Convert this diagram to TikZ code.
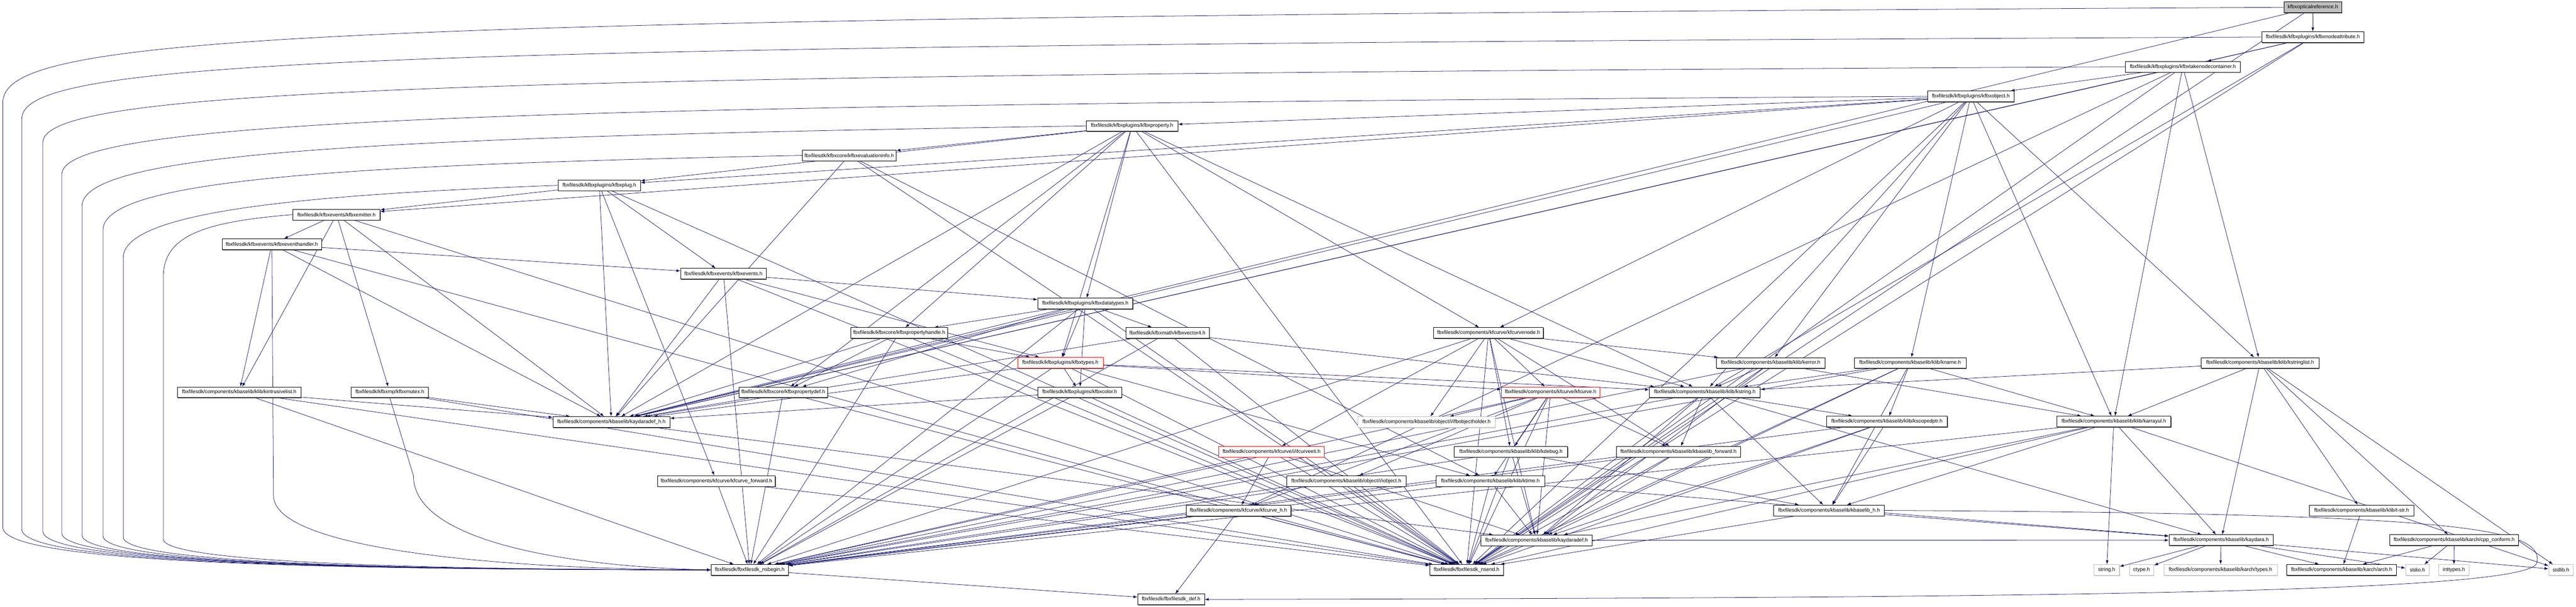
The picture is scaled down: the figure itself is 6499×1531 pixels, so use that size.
\documentclass[tikz,border=0pt]{standalone}
\usepackage{fontspec}
\newfontfamily\hdrfont{Liberation Sans}
\usetikzlibrary{arrows.meta,shadows,backgrounds}
\definecolor{edgeblue}{HTML}{191970}
\definecolor{nodocgray}{HTML}{BFBFBF}
\tikzset{
  basebox/.style={draw=black, fill=white, line width=0.5pt, inner sep=0pt,
    minimum height=13.5pt, font=\hdrfont\fontsize{6.5}{7}\selectfont},
  hdr/.style={basebox, drop shadow={shadow xshift=0.5pt, shadow yshift=-0.9pt, fill=black!65, opacity=1}},
  leaf/.style={basebox, draw=nodocgray, drop shadow={shadow xshift=0.5pt, shadow yshift=-0.9pt, fill=black!20, opacity=1}},
  trunc/.style={draw=red},
  rootnode/.style={fill=nodocgray},
  wd/.style={minimum width=#1*0.5pt},
  dep/.style={draw=edgeblue, line width=0.5pt, -{Latex[length=5pt,width=3.6pt]}}
}
\begin{document}
\begin{tikzpicture}[x=0.5pt,y=-0.5pt]
\useasboundingbox (0,0) rectangle (6499,1531);
% headers, top to bottom
\node[hdr,rootnode,wd=146] (root) at (5835,18.5) {kfbxopticalreference.h};
\node[hdr,wd=258] (nattr) at (5835,93.5) {fbxfilesdk/kfbxplugins/kfbxnodeattribute.h};
\node[hdr,wd=290] (tnc) at (5507,168.5) {fbxfilesdk/kfbxplugins/kfbxtakenodecontainer.h};
\node[hdr,wd=218] (obj) at (4972,243) {fbxfilesdk/kfbxplugins/kfbxobject.h};
\node[hdr,wd=232] (prop) at (2856,317.5) {fbxfilesdk/kfbxplugins/kfbxproperty.h};
\node[hdr,wd=237] (evinfo) at (2142.5,392) {fbxfilesdk/kfbxcore/kfbxevaluationinfo.h};
\node[hdr,wd=208] (plug) at (1512,467.5) {fbxfilesdk/kfbxplugins/kfbxplug.h};
\node[hdr,wd=220] (emit) at (849,541.5) {fbxfilesdk/kfbxevents/kfbxemitter.h};
\node[hdr,wd=250] (evhdl) at (686,616) {fbxfilesdk/kfbxevents/kfbxeventhandler.h};
\node[hdr,wd=216] (events) at (1825,690.5) {fbxfilesdk/kfbxevents/kfbxevents.h};
\node[hdr,wd=240] (dtypes) at (2738,765.5) {fbxfilesdk/kfbxplugins/kfbxdatatypes.h};
\node[hdr,wd=245] (phandle) at (2268.5,840) {fbxfilesdk/kfbxcore/kfbxpropertyhandle.h};
\node[hdr,wd=211] (vec4) at (2945.5,840) {fbxfilesdk/kfbxmath/kfbxvector4.h};
\node[hdr,wd=277] (fcnode) at (3755.5,840) {fbxfilesdk/components/kfcurve/kfcurvenode.h};
\node[hdr,trunc,wd=216] (ftypes) at (2675,915) {fbxfilesdk/kfbxplugins/kfbxtypes.h};
\node[hdr,wd=274] (kerror) at (4467,915.5) {fbxfilesdk/components/kbaselib/klib/kerror.h};
\node[hdr,wd=282] (kname) at (4819,915.5) {fbxfilesdk/components/kbaselib/klib/kname.h};
\node[hdr,wd=298] (kslist) at (5702,915.5) {fbxfilesdk/components/kbaselib/klib/kstringlist.h};
\node[hdr,wd=311] (ilist) at (603.5,989.5) {fbxfilesdk/components/kbaselib/klib/kintrusivelist.h};
\node[hdr,wd=195] (mutex) at (983.5,989.5) {fbxfilesdk/kfbxmp/kfbxmutex.h};
\node[hdr,wd=224] (pdef) at (1976,989.5) {fbxfilesdk/kfbxcore/kfbxpropertydef.h};
\node[hdr,wd=212] (color) at (2724,989.5) {fbxfilesdk/kfbxplugins/kfbxcolor.h};
\node[hdr,trunc,wd=248] (fcurve) at (3912,989.5) {fbxfilesdk/components/kfcurve/kfcurve.h};
\node[hdr,wd=280] (kstr) at (4301,989.5) {fbxfilesdk/components/kbaselib/klib/kstring.h};
\node[hdr,wd=295] (kadefh) at (1542.5,1064.5) {fbxfilesdk/components/kbaselib/kaydaradef\_h.h};
\node[leaf,wd=346] (objholder) at (3599,1064.5) {fbxfilesdk/components/kbaselib/object/i/ifbobjectholder.h};
\node[hdr,wd=305] (scoped) at (4760.5,1063.5) {fbxfilesdk/components/kbaselib/klib/kscopedptr.h};
\node[hdr,wd=288] (karray) at (5333,1063.5) {fbxfilesdk/components/kbaselib/klib/karrayul.h};
\node[hdr,trunc,wd=266] (eti) at (3208,1139.5) {fbxfilesdk/components/kfcurve/i/ifcurveeti.h};
\node[hdr,wd=286] (kdebug) at (3812,1139.5) {fbxfilesdk/components/kbaselib/klib/kdebug.h};
\node[hdr,wd=313] (kbfwd) at (4234.5,1139.5) {fbxfilesdk/components/kbaselib/kbaselib\_forward.h};
\node[hdr,wd=297] (fcfwd) at (1807.5,1213.5) {fbxfilesdk/components/kfcurve/kfcurve\_forward.h};
\node[hdr,wd=301] (iobj) at (3396.5,1213.5) {fbxfilesdk/components/kbaselib/object/i/iobject.h};
\node[hdr,wd=274] (ktime) at (3760,1213.5) {fbxfilesdk/components/kbaselib/klib/ktime.h};
\node[hdr,wd=265] (fch) at (3124.5,1288) {fbxfilesdk/components/kfcurve/kfcurve\_h.h};
\node[hdr,wd=279] (kbh) at (4614.5,1287.5) {fbxfilesdk/components/kbaselib/kbaselib\_h.h};
\node[hdr,wd=264] (tstr) at (5958,1287.5) {fbxfilesdk/components/kbaselib/klib/t-str.h};
\node[hdr,wd=281] (kadef) at (3876.5,1363) {fbxfilesdk/components/kbaselib/kaydaradef.h};
\node[hdr,wd=263] (kay) at (5603.5,1362.5) {fbxfilesdk/components/kbaselib/kaydara.h};
\node[hdr,wd=325] (cppc) at (6191.5,1362.5) {fbxfilesdk/components/kbaselib/karch/cpp\_conform.h};
\node[hdr,wd=195] (nsbeg) at (1891.5,1437.5) {fbxfilesdk/fbxfilesdk\_nsbegin.h};
\node[hdr,wd=186] (nsend) at (3700,1437.5) {fbxfilesdk/fbxfilesdk\_nsend.h};
\node[leaf,wd=64] (strh) at (5315,1437.5) {string.h};
\node[leaf,wd=62] (ctype) at (5403,1437.5) {ctype.h};
\node[leaf,wd=286] (atypes) at (5602,1437.5) {fbxfilesdk/components/kbaselib/karch/types.h};
\node[hdr,wd=277] (arch) at (5907.5,1437.5) {fbxfilesdk/components/kbaselib/karch/arch.h};
\node[leaf,wd=60] (stdio) at (6099,1437.5) {stdio.h};
\node[leaf,wd=76] (inttypes) at (6191,1437.5) {inttypes.h};
\node[leaf,wd=62] (stdlib) at (6461,1437.5) {stdlib.h};
\node[hdr,wd=169] (fdef) at (2954.5,1512) {fbxfilesdk/fbxfilesdk\_def.h};
\begin{scope}[on background layer]
% long includes of nsbegin, taken round the left side
\draw[dep] (root.west) .. controls (700,45) and (7,90) .. (7,260) -- (7,1330) .. controls (7,1415) and (700,1437) .. (nsbeg.west);
\draw[dep] (nattr.west) .. controls (900,115) and (55,150) .. (55,300) -- (55,1335) .. controls (55,1415) and (750,1437) .. (nsbeg.west);
\draw[dep] (tnc.west) .. controls (1100,190) and (108,225) .. (108,360) -- (108,1340) .. controls (108,1415) and (800,1437) .. (nsbeg.west);
\draw[dep] (obj.west) .. controls (1300,265) and (156,300) .. (156,440) -- (156,1345) .. controls (156,1415) and (850,1437) .. (nsbeg.west);
\draw[dep] (prop.west) .. controls (1000,345) and (207,380) .. (207,520) -- (207,1350) .. controls (207,1418) and (900,1437) .. (nsbeg.west);
\draw[dep] (evinfo.west) .. controls (900,415) and (260,450) .. (260,580) -- (260,1352) .. controls (260,1420) and (950,1437) .. (nsbeg.west);
\draw[dep] (plug.west) .. controls (800,490) and (311,530) .. (311,650) -- (311,1355) .. controls (311,1420) and (1000,1437) .. (nsbeg.west);
\draw[dep] (emit.west) .. controls (500,560) and (412,600) .. (412,700) -- (412,1360) .. controls (412,1420) and (1100,1437) .. (nsbeg.west);
\draw[dep] (evhdl.south) -- (690,1250) .. controls (690,1390) and (1300,1437) .. (nsbeg.west);
\draw[dep] (mutex.south) -- (1043,1200) .. controls (1043,1380) and (1500,1432) .. (nsbeg.west);
\draw[dep] (kbh.east) .. controls (6200,1295) and (6420,1330) .. (6400,1420) .. controls (6380,1500) and (5000,1508) .. (fdef.east);
% the rest
\draw[dep] (root) edge (nattr) edge (kadefh) edge (nsend);
\draw[dep] (nattr) edge (tnc) edge (kadefh) edge (nsend) edge (kstr);
\draw[dep] (tnc) edge (obj) edge (kadefh) edge (nsend) edge (fch) edge (kslist) edge (karray);
\draw[dep] (obj) edge (prop) edge (plug) edge (emit) edge (kadefh) edge (nsend) edge (kstr) edge (kslist) edge (karray) edge (kerror) edge (kname) edge (fcnode);
\draw[dep] (prop) edge (evinfo) edge (plug) edge (dtypes) edge (phandle) edge (pdef) edge (ftypes) edge (kadefh) edge (nsend) edge (kstr) edge (fcnode);
\draw[dep] (evinfo) edge (kadefh) edge (nsend) edge (ktime);
\draw[dep] (plug) edge (emit) edge (events) edge (fcfwd) edge (kadefh) edge (nsend);
\draw[dep] (emit) edge (evhdl) edge (ilist) edge (mutex) edge (kadefh) edge (nsend);
\draw[dep] (evhdl) edge (events) edge (ilist) edge (kadefh) edge (nsend);
\draw[dep] (events) edge (dtypes) edge (ftypes) edge (kadefh) edge (nsbeg) edge (nsend);
\draw[dep] (dtypes) edge (ftypes) edge (color) edge (phandle) edge (pdef) edge (vec4) edge (kadefh) edge (nsbeg) edge (nsend);
\draw[dep] (phandle) edge (pdef) edge (ftypes) edge (kadefh) edge (nsbeg) edge (nsend);
\draw[dep] (vec4) edge (kstr) edge (kadefh) edge (nsbeg) edge (nsend);
\draw[dep] (ftypes) edge (color) edge (kstr) edge (ktime) edge (fcurve) edge (kadefh) edge (nsbeg) edge (nsend);
\draw[dep] (pdef) edge (kadefh) edge (nsbeg) edge (nsend);
\draw[dep] (color) edge (kadefh) edge (nsbeg) edge (nsend);
\draw[dep] (ilist) edge (kadefh) edge (nsbeg) edge (nsend);
\draw[dep] (mutex) edge (kadefh) edge (nsend);
\draw[dep] (kadefh) edge (kadef);
\draw[dep] (fcnode) edge (fcurve) edge (objholder) edge (kerror) edge (kstr) edge (kdebug) edge (kbfwd) edge (eti) edge (kadef) edge (nsbeg) edge (nsend);
\draw[dep] (fcurve) edge (objholder) edge (kdebug) edge (kbfwd) edge (iobj) edge (ktime) edge (fch) edge (kadef) edge (nsbeg) edge (nsend);
\draw[dep] (kerror) edge (kstr) edge (karray) edge (kadef) edge (nsbeg) edge (nsend);
\draw[dep] (kname) edge (kstr) edge (scoped) edge (karray) edge (kbh) edge (kadef) edge (nsbeg) edge (nsend);
\draw[dep] (kslist) edge (kstr) edge (karray) edge (kay) edge (tstr) edge (cppc) edge (stdlib);
\draw[dep] (kstr) edge (scoped) edge (kbfwd) edge (kbh) edge (kadef) edge (kay) edge (nsbeg) edge (nsend);
\draw[dep] (scoped) edge (kbh) edge (kadef) edge (nsbeg) edge (nsend);
\draw[dep] (karray) edge (kbh) edge (strh) edge (stdlib) edge (kay) edge (kadef) edge (nsbeg) edge (nsend);
\draw[dep] (eti) edge (fch) edge (kadef) edge (nsbeg) edge (nsend);
\draw[dep] (kdebug) edge (kbh) edge (kadef) edge (nsbeg) edge (nsend);
\draw[dep] (kbfwd) edge (kadef) edge (nsbeg) edge (nsend);
\draw[dep] (fcfwd) edge (nsbeg) edge (nsend);
\draw[dep] (iobj) edge (nsbeg) edge (nsend);
\draw[dep] (ktime) edge (kadef) edge (kay) edge (nsbeg) edge (nsend);
\draw[dep] (fch) edge (fdef) edge (nsbeg) edge (nsend);
\draw[dep] (kbh) edge (kay) edge (nsend);
\draw[dep] (tstr) edge (arch);
\draw[dep] (kadef) edge (kay) edge (nsend);
\draw[dep] (kay) edge (strh) edge (ctype) edge (atypes) edge (arch) edge (stdio) edge (stdlib);
\draw[dep] (cppc) edge (arch) edge (stdio) edge (inttypes);
\draw[dep] (nsbeg) edge (fdef);
\end{scope}
\end{tikzpicture}
\end{document}
